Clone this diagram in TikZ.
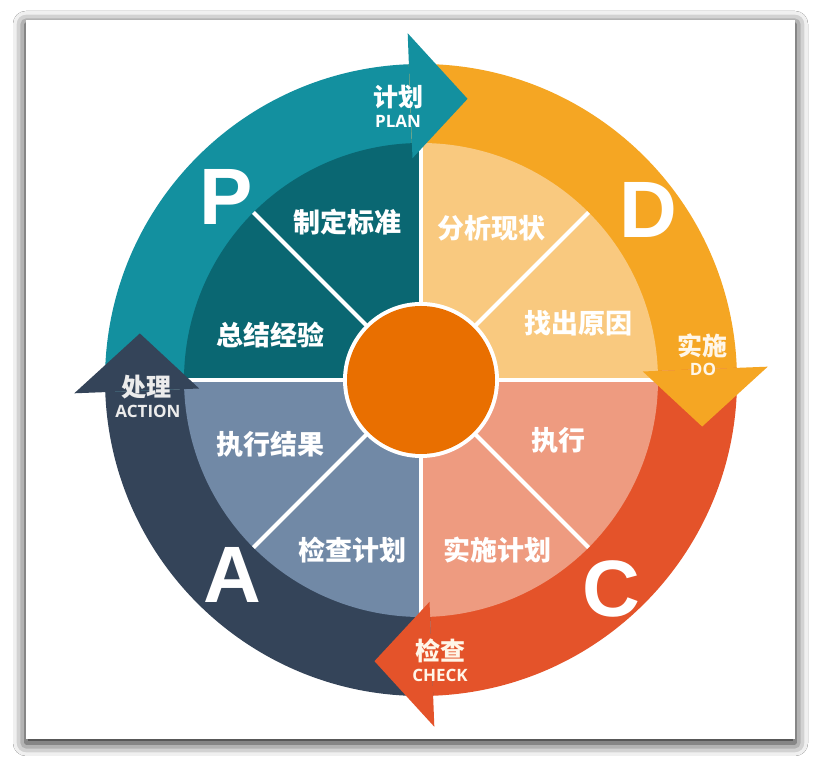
\documentclass[tikz,border=0pt]{standalone}
\usepackage{fontspec}
\setmainfont{Liberation Sans}
\newfontfamily\cjk{Noto Sans CJK SC}
\newfontfamily\lab{Open Sans}
\usetikzlibrary{shadows.blur,calc}
\definecolor{bandP}{HTML}{13909F}
\definecolor{bandD}{HTML}{F5A623}
\definecolor{bandC}{HTML}{E4532A}
\definecolor{bandA}{HTML}{344459}
\definecolor{pieP}{HTML}{0A6772}
\definecolor{pieD}{HTML}{F9C97F}
\definecolor{pieC}{HTML}{EE9B80}
\definecolor{pieA}{HTML}{7189A6}
\definecolor{hub}{HTML}{E96F00}
\definecolor{cream}{HTML}{FFF6E8}
\begin{document}
\begin{tikzpicture}[x=1pt,y=1pt,
  bigletter/.style={font=\fontsize{80}{80}\selectfont\bfseries, text=white, inner sep=0pt},
  pielabel/.style={font=\cjk\fontsize{27}{27}\selectfont\bfseries, text=white, inner sep=0pt},
  arrowcn/.style={font=\cjk\fontsize{25}{25}\selectfont\bfseries, text=white, inner sep=0pt},
  arrowen/.style={font=\lab\fontsize{17}{17}\selectfont\bfseries, text=white, inner sep=0pt}]
\useasboundingbox (0,0) rectangle (821,770);
\fill[white] (0,0) rectangle (821,770);
\fill[white, blur shadow={shadow xshift=0pt, shadow yshift=-4pt, shadow blur radius=13pt, shadow opacity=95}] (26,31) rectangle (795,750);
\coordinate (O) at (421,390);
% ring bands
\foreach \b/\col in {92.2/bandP, 2.2/bandD, -87.8/bandC, -177.8/bandA}{
  \pgfmathsetmacro\s{\b+90}
  \fill[\col] ($(O)+(\s:316)$) arc[start angle=\s, end angle=\b, radius=316]
     -- ($(O)+(\b:200)$) arc[start angle=\b, end angle=\s, radius=200] -- cycle;
}
% pie sectors
\foreach \a/\col in {90/pieP,135/pieP,0/pieD,45/pieD,270/pieC,315/pieC,180/pieA,225/pieA}{
  \pgfmathsetmacro\e{\a+45}
  \fill[\col] (O) -- ($(O)+(\a:237)$) arc[start angle=\a, end angle=\e, radius=237] -- cycle;
}
\foreach \a in {0,45,...,315}{
  \draw[white, line width=4pt] (O) -- ($(O)+(\a:237)$);
}
% arrow heads
\foreach \b/\col in {92.2/bandP, 2.2/bandD, -87.8/bandC, -177.8/bandA}{
  \pgfmathsetmacro\t{\b-11.6}
  \fill[\col] ($(O)+(\b:347)$) -- ($(O)+(\t:285)$) -- ($(O)+(\b:222)$) -- cycle;
}
% hub
\fill[white] (O) circle (78);
\node[circle, fill=hub, minimum size=148pt, inner sep=0pt] (hubc) at (O) {};
% big letters
\node[bigletter] (lP) at (226,573) {P};
\node[bigletter] (lD) at (648,560) {D};
\node[bigletter] (lA) at (232,195) {A};
\node[bigletter] (lC) at (611,181) {C};
% pie labels
\node[pielabel] (s1) at (347,548) {制定标准};
\node[pielabel] (s2) at (491,542) {分析现状};
\node[pielabel] (s3) at (270,435) {总结经验};
\node[pielabel] (s4) at (578,447) {找出原因};
\node[pielabel] (s5) at (270,326) {执行结果};
\node[pielabel] (s6) at (558,330) {执行};
\node[pielabel] (s7) at (352,220) {检查计划};
\node[pielabel] (s8) at (497,220) {实施计划};
% arrow labels
\node[arrowcn] (pcn) at (398,673) {计划};
\node[arrowen] (pen) at (398,649) {PLAN};
\node[arrowcn, text=gray!15] (acn) at (146,383) {处理};
\node[arrowen, text=gray!15] (aen) at (148,359) {ACTION};
\node[arrowcn, text=cream] (dcn) at (702,424) {实施};
\node[arrowen, text=cream] (den) at (703,401) {DO};
\node[arrowcn, text=cream] (ccn) at (440,119) {检查};
\node[arrowen, text=cream] (cen) at (440,95) {CHECK};
\end{tikzpicture}
\end{document}
